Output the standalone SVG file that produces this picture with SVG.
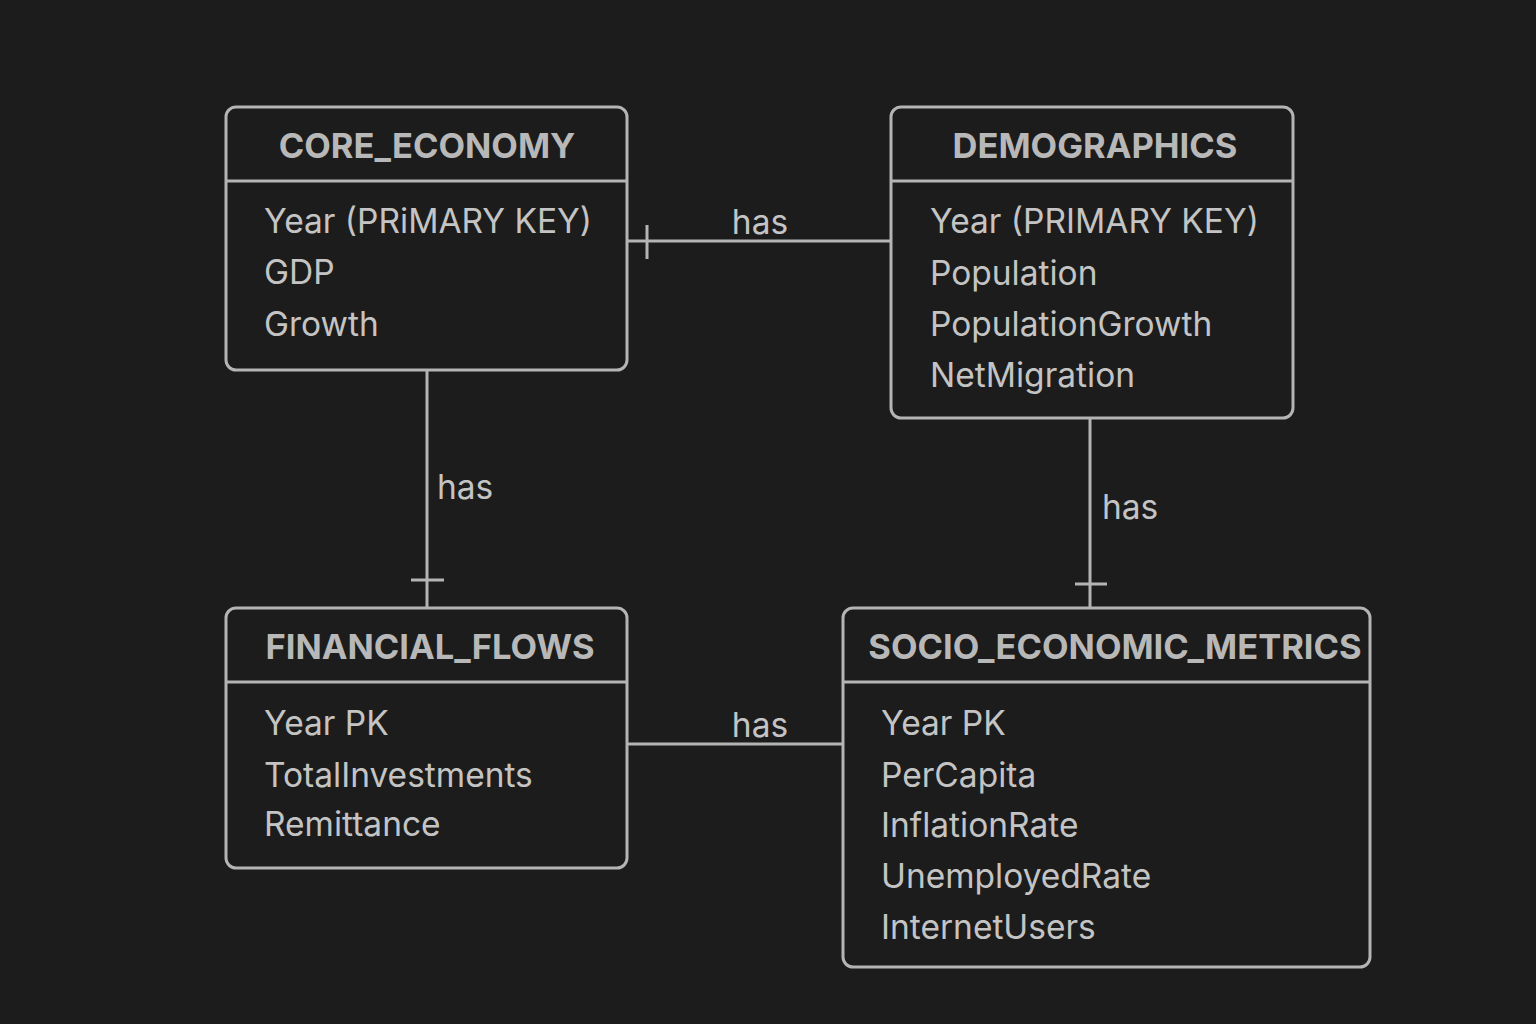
<svg xmlns="http://www.w3.org/2000/svg" width="1536" height="1024" viewBox="0 0 1536 1024">
<style>
.box{fill:#1c1c1c;stroke:#b4b4b4;stroke-width:3}
.div{stroke:#b4b4b4;stroke-width:3}
.conn{stroke:#b4b4b4;stroke-width:3;fill:none}
.hd{font-family:Inter,"Noto Sans",sans-serif;font-weight:700;font-size:34.5px;fill:#b8b8b8;text-anchor:middle}
.at{font-family:Inter,"Noto Sans",sans-serif;font-size:33.5px;fill:#c4c4c4}
.lb{font-family:Inter,"Noto Sans",sans-serif;font-size:33.5px;fill:#c4c4c4}
</style>
<rect width="1536" height="1024" fill="#1c1c1c"/>
<g id="connectors">
<line class="conn" x1="627" y1="241" x2="891" y2="241"/>
<line class="conn" x1="647" y1="225" x2="647" y2="259"/>
<text class="lb" x="760" y="234" text-anchor="middle">has</text>
<line class="conn" x1="427" y1="370" x2="427" y2="608"/>
<line class="conn" x1="411" y1="580" x2="444" y2="580"/>
<text class="lb" x="437" y="499">has</text>
<line class="conn" x1="1090" y1="418" x2="1090" y2="608"/>
<line class="conn" x1="1075" y1="584" x2="1107" y2="584"/>
<text class="lb" x="1102" y="519">has</text>
<line class="conn" x1="627" y1="744" x2="843" y2="744"/>
<text class="lb" x="760" y="737" text-anchor="middle">has</text>
</g>
<g id="core_economy">
<rect class="box" x="226" y="107" width="401" height="263" rx="10"/>
<line class="div" x1="226" y1="181" x2="627" y2="181"/>
<text class="hd" x="427" y="158">CORE_ECONOMY</text>
<text class="at" x="264" y="233">Year (PRiMARY KEY)</text>
<text class="at" x="264" y="284">GDP</text>
<text class="at" x="264" y="336">Growth</text>
</g>
<g id="demographics">
<rect class="box" x="891" y="107" width="402" height="311" rx="10"/>
<line class="div" x1="891" y1="181" x2="1293" y2="181"/>
<text class="hd" x="1095" y="158">DEMOGRAPHICS</text>
<text class="at" x="930" y="233">Year (PRIMARY KEY)</text>
<text class="at" x="930" y="285">Population</text>
<text class="at" x="930" y="336">PopulationGrowth</text>
<text class="at" x="930" y="387">NetMigration</text>
</g>
<g id="financial_flows">
<rect class="box" x="226" y="608" width="401" height="260" rx="10"/>
<line class="div" x1="226" y1="682" x2="627" y2="682"/>
<text class="hd" x="430" y="659">FINANCIAL_FLOWS</text>
<text class="at" x="264" y="735">Year PK</text>
<text class="at" x="264" y="787">TotalInvestments</text>
<text class="at" x="264" y="836">Remittance</text>
</g>
<g id="socio_economic_metrics">
<rect class="box" x="843" y="608" width="527" height="359" rx="10"/>
<line class="div" x1="843" y1="682" x2="1370" y2="682"/>
<text class="hd" x="1115" y="659">SOCIO_ECONOMIC_METRICS</text>
<text class="at" x="881" y="735">Year PK</text>
<text class="at" x="881" y="787">PerCapita</text>
<text class="at" x="881" y="837">InflationRate</text>
<text class="at" x="881" y="888">UnemployedRate</text>
<text class="at" x="881" y="939">InternetUsers</text>
</g>
</svg>
